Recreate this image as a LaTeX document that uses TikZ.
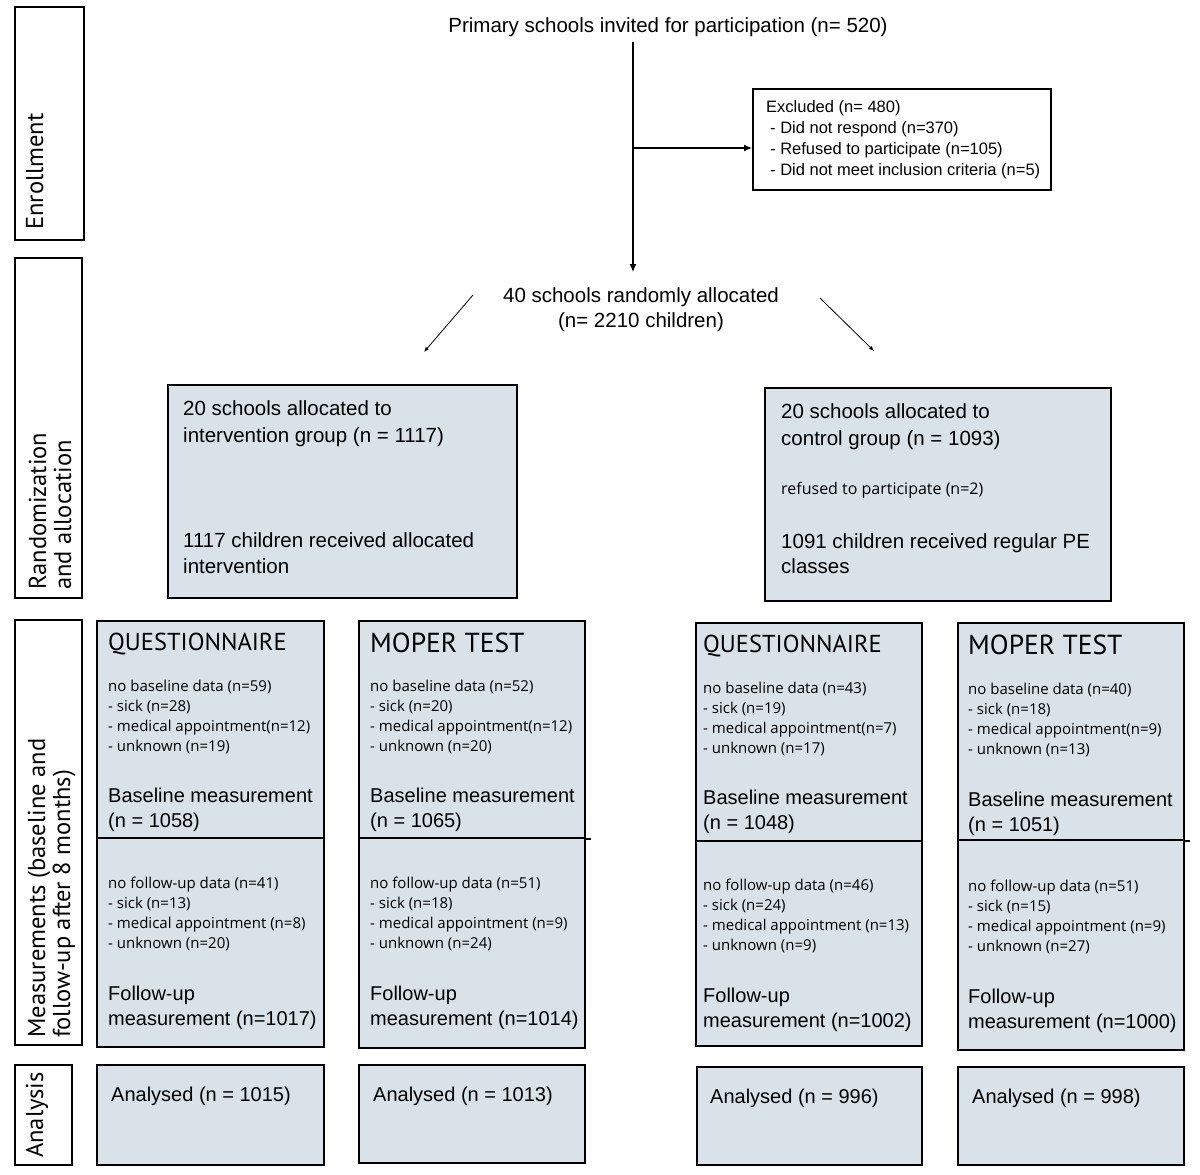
\documentclass[tikz,border=0pt]{standalone}
\usepackage{fontspec}
\setmainfont{Liberation Sans}
\newfontfamily\myriad{PT Sans}
\newfontfamily\myriadsmall{Open Sans}
\usepackage{tikz}
\usetikzlibrary{arrows.meta,positioning}

\definecolor{groupfill}{HTML}{D9E2E8}

\begin{document}
\begin{tikzpicture}[x=1pt,y=-1pt]
	\tikzstyle{Side}	= [rectangle, draw, line width=2pt, inner sep=0pt]
	\tikzstyle{Group}	= [rectangle, draw, line width=2pt, fill=groupfill, inner sep=0pt]
	\tikzstyle{Big}		= [inner sep=0pt, anchor=base west, font=\fontsize{20}{24}\selectfont]
	\tikzstyle{Small}	= [inner sep=0pt, anchor=base west, font=\myriadsmall\fontsize{15}{18}\selectfont]
	\tikzstyle{Label}	= [inner sep=0pt, anchor=base west, rotate=90, align=left, font=\myriad\fontsize{24.5}{25}\selectfont]
	\tikzstyle{Flow}	= [line width=1.2pt, -{Latex[length=8pt,width=7pt]}]
	\tikzstyle{Split}	= [line width=0.8pt, -{Latex[length=5pt,width=4pt]}]

	\useasboundingbox (0,0) rectangle (1200,1175);

	% side labels
	\node (enr) at (49.5,123.5) [Side, minimum width=69, minimum height=233] {};
	\node (rnd) at (48.5,428) [Side, minimum width=67, minimum height=340] {};
	\node (msr) at (48.5,832.5) [Side, minimum width=67, minimum height=425] {};
	\node (ana) at (43.5,1115) [Side, minimum width=57, minimum height=100] {};
	\node (enrT) at (43,230) [Label] {Enrollment};
	\node (rndT) at (71,590) [Label] {Randomization\\and allocation};
	\node (msrT) at (70,1038) [Label] {Measurements (baseline and\\follow-up after 8 months)};
	\node (anaT) at (43,1158) [Label] {Analysis};

	% enrollment
	\node (invited) at (668,32) [inner sep=0pt, anchor=base, font=\fontsize{20.5}{24}\selectfont] {Primary schools invited for participation (n= 520)};
	\node (excl) at (902,139.5) [Side, minimum width=298, minimum height=101] {};
	\node (exclT) at (766,175) [inner sep=0pt, anchor=base west, align=left, font=\fontsize{16.5}{21}\selectfont]
		{Excluded (n= 480)\\\hspace*{4pt}- Did not respond (n=370)\\\hspace*{4pt}- Refused to participate (n=105)\\\hspace*{4pt}- Did not meet inclusion criteria (n=5)};
	\node (alloc) at (641,327) [inner sep=0pt, anchor=base, align=center, font=\fontsize{20.5}{25}\selectfont]
		{40 schools randomly allocated\\(n= 2210 children)};

	\coordinate (vtop) at (633,42);
	\coordinate (vbot) at (633,272);
	\coordinate (vsplit) at (633,148);
	\draw [Flow] (vtop) -- (vbot);
	\draw [Flow] (vsplit) -- (vsplit -| excl.west);

	\coordinate (dl1) at (473,295);
	\coordinate (dl2) at (424,352);
	\coordinate (dr1) at (820,298);
	\coordinate (dr2) at (874,351);
	\draw [Split] (dl1) -- (dl2);
	\draw [Split] (dr1) -- (dr2);

	% allocation
	\node (int) at (342.5,491.5) [Group, minimum width=349, minimum height=213] {};
	\node (intA) at (183,415) [Big, font=\fontsize{20.5}{24}\selectfont] {20 schools allocated to};
	\node (intB) at (183,442) [Big, font=\fontsize{20.5}{24}\selectfont] {intervention group (n = 1117)};
	\node (intC) at (183,547) [Big, font=\fontsize{20.5}{24}\selectfont] {1117 children received allocated};
	\node (intD) at (183,573) [Big, font=\fontsize{20.5}{24}\selectfont] {intervention};

	\node (con) at (938,494.5) [Group, minimum width=346, minimum height=213] {};
	\node (conA) at (781,418) [Big, font=\fontsize{20.5}{24}\selectfont] {20 schools allocated to};
	\node (conB) at (781,445) [Big, font=\fontsize{20.5}{24}\selectfont] {control group (n = 1093)};
	\node (conR) at (781,494) [Small, font=\myriadsmall\fontsize{16}{18}\selectfont] {refused to participate (n=2)};
	\node (conC) at (781,548) [Big, font=\fontsize{20.5}{24}\selectfont] {1091 children received regular PE};
	\node (conD) at (781,573) [Big, font=\fontsize{20.5}{24}\selectfont] {classes};

	% measurements, intervention
	\node (q1top) at (210.5,729.5) [Group, minimum width=227, minimum height=217] {};
	\node (q1bot) at (210.5,942.5) [Group, minimum width=227, minimum height=209] {};
	\node (q1T) at (108,650) [Small, font=\myriad\fontsize{24.5}{26}\selectfont] {QUESTIONNAIRE};
	\foreach \t [count=\i from 0] in {{no baseline data (n=59)}, {- sick (n=28)}, {- medical appointment(n=12)}, {- unknown (n=19)}}
		\node (q1b\i) at (108,691+20*\i) [Small] {\t};
	\node (q1bm) at (108,802) [Big] {Baseline measurement};
	\node (q1bn) at (108,827) [Big] {(n = 1058)};
	\foreach \t [count=\i from 0] in {{no follow-up data (n=41)}, {- sick (n=13)}, {- medical appointment (n=8)}, {- unknown (n=20)}}
		\node (q1f\i) at (108,888+20*\i) [Small] {\t};
	\node (q1fm) at (108,1000) [Big] {Follow-up};
	\node (q1fn) at (108,1025) [Big] {measurement (n=1017)};

	\node (m1top) at (472,729.5) [Group, minimum width=226, minimum height=217] {};
	\node (m1bot) at (472,943) [Group, minimum width=226, minimum height=210] {};
	\draw [line width=2pt] (m1top.south east) -- ++(5,0);
	\node (m1T) at (370,652) [Small, font=\myriad\fontsize{27.5}{30}\selectfont] {MOPER TEST};
	\foreach \t [count=\i from 0] in {{no baseline data (n=52)}, {- sick (n=20)}, {- medical appointment(n=12)}, {- unknown (n=20)}}
		\node (m1b\i) at (370,691+20*\i) [Small] {\t};
	\node (m1bm) at (370,802) [Big] {Baseline measurement};
	\node (m1bn) at (370,827) [Big] {(n = 1065)};
	\foreach \t [count=\i from 0] in {{no follow-up data (n=51)}, {- sick (n=18)}, {- medical appointment (n=9)}, {- unknown (n=24)}}
		\node (m1f\i) at (370,888+20*\i) [Small] {\t};
	\node (m1fm) at (370,1000) [Big] {Follow-up};
	\node (m1fn) at (370,1025) [Big] {measurement (n=1014)};

	% measurements, control
	\node (q2top) at (809,732) [Group, minimum width=226, minimum height=218] {};
	\node (q2bot) at (809,943.5) [Group, minimum width=226, minimum height=205] {};
	\node (q2T) at (703,652) [Small, font=\myriad\fontsize{24.5}{26}\selectfont] {QUESTIONNAIRE};
	\foreach \t [count=\i from 0] in {{no baseline data (n=43)}, {- sick (n=19)}, {- medical appointment(n=7)}, {- unknown (n=17)}}
		\node (q2b\i) at (703,693+20*\i) [Small] {\t};
	\node (q2bm) at (703,804) [Big] {Baseline measurement};
	\node (q2bn) at (703,829) [Big] {(n = 1048)};
	\foreach \t [count=\i from 0] in {{no follow-up data (n=46)}, {- sick (n=24)}, {- medical appointment (n=13)}, {- unknown (n=9)}}
		\node (q2f\i) at (703,890+20*\i) [Small] {\t};
	\node (q2fm) at (703,1002) [Big] {Follow-up};
	\node (q2fn) at (703,1027) [Big] {measurement (n=1002)};

	\node (m2top) at (1071,731.5) [Group, minimum width=226, minimum height=217] {};
	\node (m2bot) at (1071,945) [Group, minimum width=226, minimum height=210] {};
	\draw [line width=2pt] (m2top.south east) -- ++(5,0);
	\node (m2T) at (968,654) [Small, font=\myriad\fontsize{27.5}{30}\selectfont] {MOPER TEST};
	\foreach \t [count=\i from 0] in {{no baseline data (n=40)}, {- sick (n=18)}, {- medical appointment(n=9)}, {- unknown (n=13)}}
		\node (m2b\i) at (968,694+20*\i) [Small] {\t};
	\node (m2bm) at (968,806) [Big] {Baseline measurement};
	\node (m2bn) at (968,831) [Big] {(n = 1051)};
	\foreach \t [count=\i from 0] in {{no follow-up data (n=51)}, {- sick (n=15)}, {- medical appointment (n=9)}, {- unknown (n=27)}}
		\node (m2f\i) at (968,891+20*\i) [Small] {\t};
	\node (m2fm) at (968,1003) [Big] {Follow-up};
	\node (m2fn) at (968,1028) [Big] {measurement (n=1000)};

	% analysis
	\node (a1) at (210.5,1115) [Group, minimum width=227, minimum height=100] {};
	\node (a2) at (472,1114) [Group, minimum width=226, minimum height=98] {};
	\node (a3) at (809.5,1116) [Group, minimum width=225, minimum height=98] {};
	\node (a4) at (1071,1116) [Group, minimum width=226, minimum height=98] {};
	\node (a1T) at (111,1101) [Big] {Analysed (n = 1015)};
	\node (a2T) at (373,1101) [Big] {Analysed (n = 1013)};
	\node (a3T) at (710,1103) [Big] {Analysed (n = 996)};
	\node (a4T) at (972,1103) [Big] {Analysed (n = 998)};
\end{tikzpicture}
\end{document}
